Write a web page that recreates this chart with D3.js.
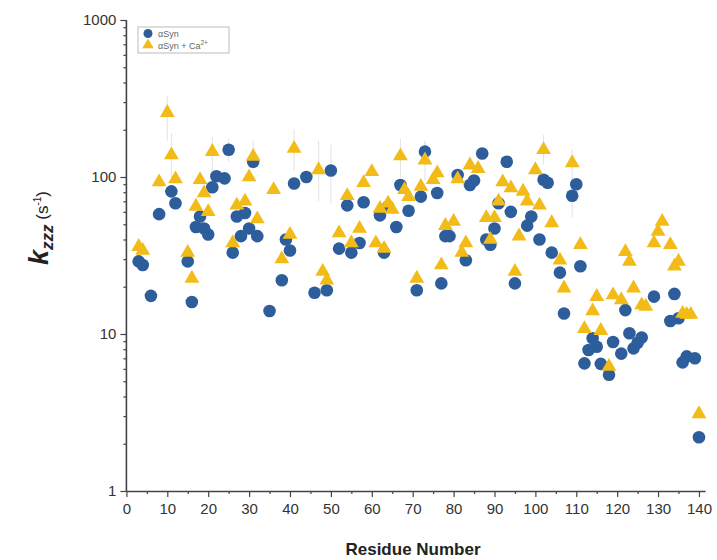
<!DOCTYPE html>
<html>
<head>
<meta charset="utf-8">
<script src="https://cdn.jsdelivr.net/npm/d3@7"></script>
<style>
  body { margin: 0; background: #fff; }
  svg { display: block; font-family: "Liberation Sans", Arial, sans-serif; }
</style>
</head>
<body>
<svg id="chart" width="717" height="560"></svg>
<script>
// αSyn (blue circles)
var synRes = [3, 4, 6, 8, 11, 12, 15, 16, 17, 18, 19, 20, 21, 22, 24, 25, 26, 27, 28, 29, 30, 31, 32, 35,
    38, 39, 40, 41, 44, 46, 49, 50, 52, 54, 55, 57, 58, 62, 63, 64, 66, 67, 69, 71, 72, 73, 76, 77, 78, 79,
    81, 83, 84, 85, 87, 88, 89, 90, 91, 93, 94, 95, 98, 99, 101, 102, 103, 104, 106, 107, 109, 110, 111,
    112, 113, 114, 115, 116, 118, 119, 121, 122, 123, 124, 125, 126, 129, 133, 134, 135, 136, 137, 139, 140];
var synVal = [29, 27.5, 17.5, 58, 81, 68, 29, 16, 48, 56, 47, 43, 86, 101, 98, 149, 33, 56, 42, 59, 47, 125, 42, 14,
    22, 40, 34, 91, 100, 18.3, 19, 110, 35, 66, 33, 38, 69, 57, 33, 65, 48, 89, 61, 19, 75, 145, 79, 21, 42, 42,
    103, 29.5, 89, 95, 141, 40, 37, 47, 68, 125, 60, 21, 49, 56, 40, 96, 92, 33, 24.6, 13.5, 76, 90, 27,
    6.5, 7.9, 9.4, 8.3, 6.45, 5.5, 8.9, 7.5, 14.2, 10.1, 8.1, 8.8, 9.5, 17.3, 12.1, 18, 12.6, 6.6, 7.2, 7.0, 2.2];

// αSyn + Ca2+ (gold triangles)
var caRes = [3, 4, 8, 10, 11, 12, 15, 16, 17, 18, 19, 20, 21, 26, 27, 29, 30, 31, 32, 36, 38, 40, 41, 47, 48,
    49, 52, 54, 55, 57, 58, 60, 61, 62, 63, 64, 65, 67, 68, 69, 71, 72, 73, 75, 76, 77, 78, 80, 81, 82, 83,
    84, 86, 88, 89, 90, 91, 92, 94, 95, 96, 97, 98, 100, 101, 102, 104, 106, 107, 109, 111, 112, 114, 115,
    116, 118, 119, 121, 122, 123, 124, 126, 127, 129, 130, 131, 133, 134, 135, 136, 137, 138, 140];
var caVal = [36, 34, 93, 257, 138, 97, 33, 22.6, 65, 96, 79, 60, 145, 38, 66, 70, 100, 135, 54, 83, 30, 43, 152, 111, 25,
    22, 44, 76, 38, 47, 92, 108, 38, 63, 35, 68, 62, 136, 83, 75, 22.6, 87, 128, 96, 106, 27.5, 49, 52, 97, 33, 38,
    119, 113, 55, 40, 55, 70, 93, 85, 25, 42, 81, 70, 111, 66, 149, 51, 29.5, 19.6, 123, 37, 10.8, 14, 17.3,
    10.5, 6.2, 17.7, 16.5, 33.4, 29, 19.6, 15.3, 15, 38, 45, 52, 37, 27, 29, 13.5, 13.3, 13.3, 3.1];

// faint error bars
var synErrRes = [50, 25, 73];
var synErrLo = [68, 125, 120];
var synErrHi = [160, 175, 170];
var caErrRes = [10, 11, 21, 31, 41, 47, 67, 73, 102, 109];
var caErrLo = [170, 100, 110, 110, 110, 70, 100, 95, 120, 55];
var caErrHi = [330, 190, 180, 170, 200, 170, 175, 170, 185, 150];

var yMajor = [1, 10, 100, 1000];
var xMajor = d3.range(0, 141, 10);

var blue = '#2d5e9b', gold = '#f3bb17';

var svg = d3.select('#chart');

var x = d3.scaleLinear().domain([0, 141.5]).range([126.4, 705.1]);
var y = d3.scaleLog().domain([1, 1000]).range([491, 20]);

var yMinor = [];
[1, 10, 100].forEach(function (d) {
    for (var i = 2; i < 10; i++) yMinor.push(d * i);
});

// minor ticks
svg.append('g')
    .attr('transform', 'translate(' + x(0) + ',0)')
    .call(d3.axisLeft(y).tickValues(yMinor).tickSize(3).tickFormat(''))
    .call(function (g) { g.select('.domain').remove(); });
svg.append('g')
    .attr('transform', 'translate(0,' + y(1) + ')')
    .call(d3.axisBottom(x).tickValues(d3.range(5, 141, 10)).tickSize(3).tickFormat(''))
    .call(function (g) { g.select('.domain').remove(); });

var yAxis = svg.append('g')
    .attr('transform', 'translate(' + x(0) + ',0)')
    .call(d3.axisLeft(y).tickValues(yMajor).tickFormat(d3.format('d')).tickSize(6).tickPadding(4));
var xAxis = svg.append('g')
    .attr('transform', 'translate(0,' + y(1) + ')')
    .call(d3.axisBottom(x).tickValues(xMajor).tickSize(6).tickPadding(6).tickSizeOuter(0));

svg.selectAll('.tick line').attr('stroke', '#444').attr('stroke-width', 1.2);
svg.selectAll('.domain').attr('stroke', '#444').attr('stroke-width', 1.6);
svg.selectAll('.tick text').attr('font-size', 15).attr('fill', '#333')
    .attr('font-family', '"Liberation Sans", Arial, sans-serif');
yAxis.select('.domain').attr('d', 'M0,' + y(1) + 'V' + y(1000));

// error bars
var errG = svg.append('g').attr('stroke', '#e2e2e2').attr('stroke-width', 1);
synErrRes.forEach(function (r, i) {
    errG.append('line').attr('x1', x(r)).attr('x2', x(r))
        .attr('y1', y(synErrLo[i])).attr('y2', y(synErrHi[i]));
});
caErrRes.forEach(function (r, i) {
    errG.append('line').attr('x1', x(r)).attr('x2', x(r))
        .attr('y1', y(caErrLo[i])).attr('y2', y(caErrHi[i]));
});

// blue circles
svg.append('g').selectAll('circle')
    .data(synRes)
    .enter()
    .append('circle')
    .attr('cx', function (d) { return x(d); })
    .attr('cy', function (d, i) { return y(synVal[i]); })
    .attr('r', 6.3)
    .attr('fill', blue);

// gold triangles
var tri = d3.symbol().type(d3.symbolTriangle).size(95);
svg.append('g').selectAll('path')
    .data(caRes)
    .enter()
    .append('path')
    .attr('d', tri)
    .attr('transform', function (d, i) { return 'translate(' + x(d) + ',' + y(caVal[i]) + ')'; })
    .attr('fill', gold);

// legend
var lg = svg.append('g');
lg.append('rect').attr('x', 138).attr('y', 27).attr('width', 91).attr('height', 26)
    .attr('fill', '#fff').attr('stroke', '#bbb').attr('stroke-width', 1);
lg.append('circle').attr('cx', 148).attr('cy', 33.5).attr('r', 4.5).attr('fill', blue);
lg.append('path').attr('d', d3.symbol().type(d3.symbolTriangle).size(55))
    .attr('transform', 'translate(148,45)').attr('fill', gold);
lg.append('text').attr('x', 158).attr('y', 37).attr('font-size', 9).attr('fill', '#666').text('αSyn');
var t2 = lg.append('text').attr('x', 158).attr('y', 48.5).attr('font-size', 9).attr('fill', '#666');
t2.append('tspan').text('αSyn + Ca');
t2.append('tspan').attr('font-size', 6.5).attr('dy', -4).text('2+');

// axis titles
svg.append('text')
    .attr('x', 413).attr('y', 555)
    .attr('text-anchor', 'middle')
    .attr('font-size', 17).attr('font-weight', 'bold').attr('fill', '#222')
    .text('Residue Number');

var yl = svg.append('text')
    .attr('transform', 'translate(48,228) rotate(-90)')
    .attr('text-anchor', 'middle')
    .attr('fill', '#222');
yl.append('tspan').attr('font-size', 27).attr('font-weight', 'bold').attr('font-style', 'italic').text('k');
yl.append('tspan').attr('font-size', 17).attr('font-weight', 'bold').attr('font-style', 'italic')
    .attr('dy', 5).text('zzz');
yl.append('tspan').attr('font-size', 17).attr('dy', -5).text(' (s');
yl.append('tspan').attr('font-size', 10).attr('dy', -7).text('-1');
yl.append('tspan').attr('font-size', 17).attr('dy', 7).text(')');
</script>
</body>
</html>
